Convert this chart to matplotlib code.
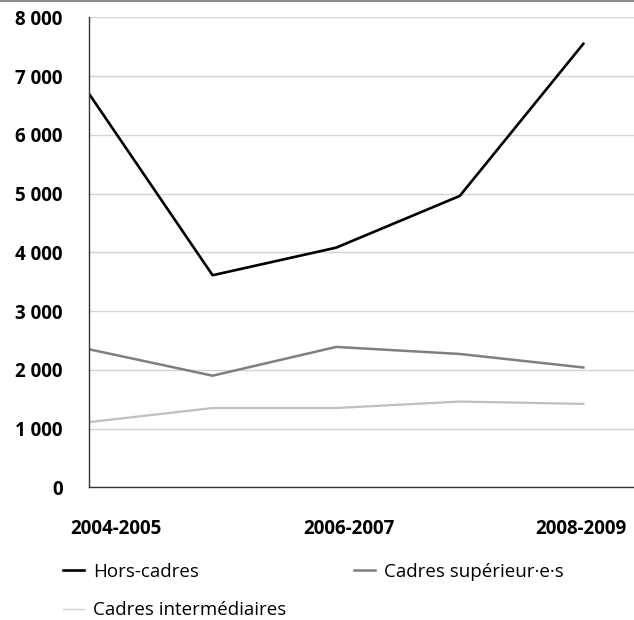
import matplotlib.pyplot as plt
from matplotlib.lines import Line2D

plt.rcParams['font.family'] = ['Open Sans', 'DejaVu Sans']

# Data
periods = ["2004-2005", "2005-2006", "2006-2007", "2007-2008", "2008-2009"]
hors_cadres = [6700, 3610, 4080, 4960, 7550]
cadres_sup = [2350, 1900, 2390, 2270, 2040]
cadres_inter = [1110, 1350, 1350, 1460, 1420]
yticks = [0, 1000, 2000, 3000, 4000, 5000, 6000, 7000, 8000]
ytick_labels = ["0", "1 000", "2 000", "3 000", "4 000", "5 000", "6 000", "7 000", "8 000"]
xtick_labels = ["2004-2005", "2006-2007", "2008-2009"]

fig = plt.figure(figsize=(6.34, 6.2), dpi=100)
ax = fig.add_axes([0.1404, 0.214, 0.8596, 0.758])

x = list(range(len(periods)))
l1, = ax.plot(x, hors_cadres, color="black", lw=1.9, label="Hors-cadres")
l2, = ax.plot(x, cadres_sup, color="#7f7f7f", lw=1.8, label="Cadres supérieur·e·s")
l3, = ax.plot(x, cadres_inter, color="#c0c0c0", lw=1.6, label="Cadres intermédiaires")

ax.set_xlim(0, 4.41)
ax.set_ylim(0, 8000)

# grid
ax.set_yticks(yticks)
ax.set_yticklabels(ytick_labels, fontweight="bold", fontsize=13.5)
ax.yaxis.grid(True, color="#d4d4d4", lw=1)
ax.set_axisbelow(True)
ax.tick_params(axis="y", length=0, pad=19)

# x labels, slightly offset as in the original
ax.set_xticks([0.22, 2.1, 3.98])
ax.set_xticklabels(xtick_labels, fontweight="bold", fontsize=13.5)
ax.tick_params(axis="x", length=0, pad=23)

for s in ["top", "right"]:
    ax.spines[s].set_visible(False)
ax.spines["left"].set_color("#333333")
ax.spines["bottom"].set_color("#333333")
ax.spines["left"].set_linewidth(1)
ax.spines["bottom"].set_linewidth(1)

# legend (columns filled first)
leg = fig.legend(handles=[l1, l3, l2], loc="upper left",
                 bbox_to_anchor=(0.088, 0.104), ncol=2, frameon=False,
                 fontsize=13.5, handlelength=1.1, handletextpad=0.5,
                 columnspacing=3.6, labelspacing=1.08, borderaxespad=0)
leg.get_lines()[1].set_linewidth(1)
leg.get_lines()[1].set_color("#d0d0d0")

# top border
fig.add_artist(Line2D([0, 1], [0.998, 0.998], transform=fig.transFigure,
                      color="#8c8c8c", lw=1.5))

fig.savefig("out.png", dpi=100)
